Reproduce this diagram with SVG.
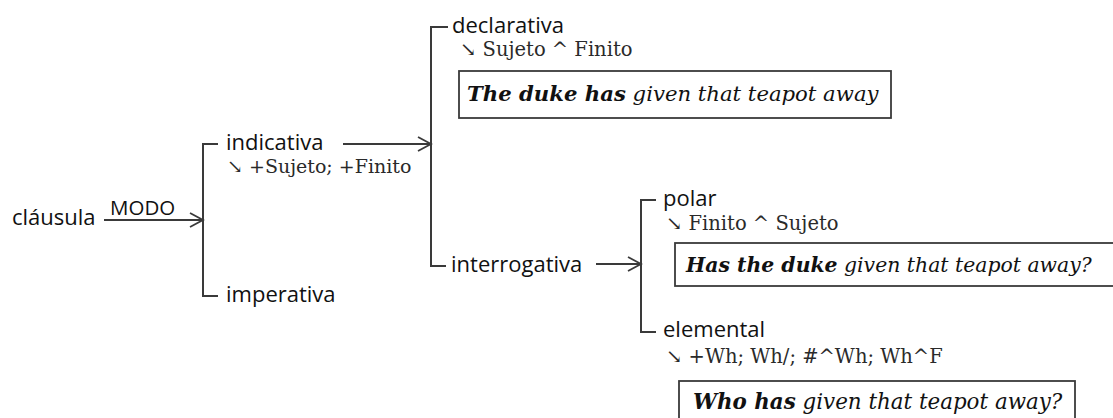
<svg xmlns="http://www.w3.org/2000/svg" width="1113" height="418" viewBox="0 0 1113 418">
<defs>
<marker id="arr" markerUnits="userSpaceOnUse" markerWidth="16" markerHeight="18" refX="14" refY="8" orient="auto">
<path d="M1,1 L14,8 L1,15" fill="none" stroke="#3a3a3a" stroke-width="1.8"/>
</marker>
</defs>
<style>
.sans{font-family:"Open Sans","Noto Sans","DejaVu Sans",sans-serif;font-size:22px;fill:#111}
.modo{font-family:"Open Sans","Noto Sans","DejaVu Sans",sans-serif;font-size:20.5px;fill:#111}
.feat{font-family:"DejaVu Serif","Liberation Serif",serif;font-size:19.5px;fill:#2a2a2a}
.ex{font-family:"DejaVu Serif","Liberation Serif",serif;font-size:21px;font-style:italic;fill:#111}
.ex tspan.b{font-weight:bold}
.ln{fill:none;stroke:#3a3a3a;stroke-width:2}
.box{fill:#fff;stroke:#3a3a3a;stroke-width:1.8}
</style>
<rect width="1113" height="418" fill="#fff"/>
<g id="connectors">
<line class="ln" x1="104" y1="220" x2="203" y2="220" marker-end="url(#arr)"/>
<path class="ln" d="M218,144 H203 V296 H218"/>
<line class="ln" x1="343" y1="144" x2="431" y2="144" marker-end="url(#arr)"/>
<path class="ln" d="M448,27 H431 V266 H446"/>
<line class="ln" x1="596" y1="264" x2="641" y2="264" marker-end="url(#arr)"/>
<path class="ln" d="M656,200 H641 V332 H656"/>
</g>
<g id="clausula">
<text class="sans" x="12" y="225">cláusula</text>
<text class="modo" x="110" y="215">MODO</text>
</g>
<g id="indicativa">
<text class="sans" x="226" y="150">indicativa</text>
<text class="feat" x="227" y="173" style="font-size:19px">↘ +Sujeto; +Finito</text>
</g>
<g id="imperativa">
<text class="sans" x="226" y="302">imperativa</text>
</g>
<g id="declarativa">
<text class="sans" x="452" y="33">declarativa</text>
<text class="feat" x="460" y="56">↘ Sujeto ^ Finito</text>
<rect class="box" x="459" y="71" width="432" height="47"/>
<text class="ex" x="467" y="101" style="font-size:21.2px"><tspan class="b">The duke has</tspan> given that teapot away</text>
</g>
<g id="interrogativa">
<text class="sans" x="451" y="272">interrogativa</text>
</g>
<g id="polar">
<text class="sans" x="663" y="206">polar</text>
<text class="feat" x="666" y="230">↘ Finito ^ Sujeto</text>
<rect class="box" x="675" y="243" width="450" height="43"/>
<text class="ex" x="686" y="272" style="font-size:20.4px"><tspan class="b">Has the duke</tspan> given that teapot away?</text>
</g>
<g id="elemental">
<text class="sans" x="663" y="337">elemental</text>
<text class="feat" x="666" y="363">↘ +Wh; Wh/; #^Wh; Wh^F</text>
<rect class="box" x="679" y="381" width="396" height="50"/>
<text class="ex" x="693" y="409" style="font-size:21.4px"><tspan class="b">Who has</tspan> given that teapot away?</text>
</g>
</svg>
